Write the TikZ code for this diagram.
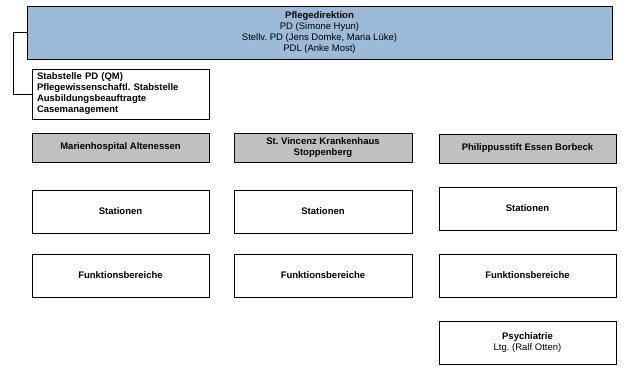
\documentclass[tikz,border=0pt]{standalone}
\usepackage{fontspec}
\setmainfont{Liberation Sans}
\usepackage{xcolor}
\usetikzlibrary{shadows}
\frenchspacing

\definecolor{pdblue}{RGB}{155,187,217}
\definecolor{hausgray}{RGB}{192,192,192}

\tikzset{
  orgbox/.style={draw=black, line width=0.8pt, fill=white, align=center,
    inner sep=2pt, font=\fontsize{9.5}{11}\selectfont,
    drop shadow={shadow xshift=1.2pt, shadow yshift=-1.2pt, fill=black!45, opacity=1}},
  hausbox/.style={orgbox, fill=hausgray, minimum width=177pt, minimum height=29pt,
    font=\fontsize{9.5}{11}\selectfont\bfseries},
  unitbox/.style={orgbox, minimum width=177pt, minimum height=43pt,
    font=\fontsize{9.5}{11}\selectfont\bfseries}
}

\begin{document}
\begin{tikzpicture}[x=1pt, y=-1pt]
    \useasboundingbox (0,0) rectangle (629,382);

    % Pflegedirektion
    \node[orgbox, fill=pdblue, minimum width=585pt, minimum height=53pt] (pd) at (319.5,32.5)
      {\textbf{Pflegedirektion}\\PD (Simone Hyun)\\Stellv. PD (Jens Domke, Maria L\"uke)\\PDL (Anke Most)};

    % Stabstellen
    \node[orgbox, minimum height=50pt, text width=167pt, inner xsep=5pt, align=left,
      font=\fontsize{9.5}{11}\selectfont\bfseries] (stab) at (120.5,94)
      {Stabstelle PD (QM)\\Pflegewissenschaftl. Stabstelle\\Ausbildungsbeauftragte\\Casemanagement};
    \draw[line width=0.8pt] (pd.west) -- ++(-13,0) |- (stab.west);

    % Haeuser
    \node[hausbox] (haus1) at (120.5,147.5) {Marienhospital Altenessen};
    \node[hausbox, minimum width=178pt] (haus2) at (323,147.5) {St. Vincenz Krankenhaus\\Stoppenberg};
    \node[hausbox] (haus3) at (527.5,148.5) {Philippusstift Essen Borbeck};

    % Stationen
    \node[unitbox] (stat1) at (120.5,211.5) {Stationen};
    \node[unitbox, minimum width=178pt] (stat2) at (323,211.5) {Stationen};
    \node[unitbox] (stat3) at (527.5,208.5) {Stationen};

    % Funktionsbereiche
    \node[unitbox] (fkt1) at (120.5,275.5) {Funktionsbereiche};
    \node[unitbox, minimum width=178pt] (fkt2) at (323,275.5) {Funktionsbereiche};
    \node[unitbox] (fkt3) at (527.5,275.5) {Funktionsbereiche};

    % Psychiatrie
    \node[unitbox, font=\fontsize{9.5}{11}\selectfont] (psych) at (527.5,342.5)
      {\textbf{Psychiatrie}\\Ltg. (Ralf Otten)};
\end{tikzpicture}
\end{document}
